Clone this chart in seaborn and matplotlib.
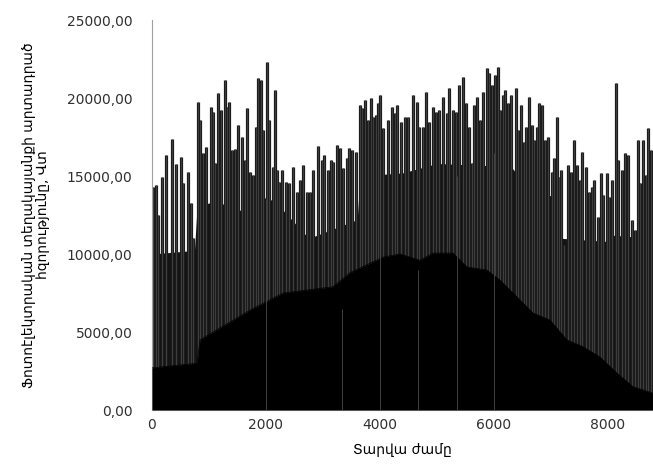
import matplotlib
matplotlib.use("Agg")
import matplotlib.pyplot as plt
import seaborn as sns
import pandas as pd
from matplotlib.ticker import FuncFormatter, FixedLocator

# ---- data (hour of year, value) ----
peak_hours = [10, 70, 110, 170, 246, 345, 421, 509, 550, 626, 679, 725, 801, 842, 900, 947,
              1029, 1076, 1111, 1164, 1205, 1280, 1321, 1356, 1397, 1456, 1514, 1573, 1631,
              1672, 1719, 1778, 1824, 1865, 1912, 1953, 2012, 2052, 2117, 2157, 2187, 2228,
              2275, 2345, 2403, 2479, 2538, 2596, 2654, 2713, 2771, 2830, 2918, 2976, 3023,
              3081, 3140, 3181, 3239, 3298, 3356, 3415, 3455, 3514, 3572, 3648, 3689, 3736,
              3783, 3836, 3882, 3923, 3970, 4005, 4058, 4134, 4204, 4262, 4303, 4362, 4438,
              4496, 4584, 4643, 4689, 4748, 4806, 4864, 4923, 4981, 5040, 5110, 5169, 5215,
              5285, 5332, 5391, 5449, 5508, 5566, 5607, 5648, 5707, 5753, 5800, 5870, 5917,
              5958, 6016, 6063, 6104, 6151, 6192, 6239, 6297, 6385, 6426, 6472, 6525, 6560,
              6613, 6660, 6706, 6748, 6788, 6846, 6893, 6951, 7011, 7057, 7098, 7139, 7174,
              7226, 7291, 7349, 7396, 7449, 7507, 7548, 7607, 7665, 7712, 7758, 7817, 7875,
              7916, 7975, 8016, 8074, 8133, 8179, 8238, 8296, 8355, 8414, 8472, 8519, 8560,
              8618, 8660, 8706, 8753]
peak_values = [14310, 14400, 12500, 14960, 16350, 17400, 15800, 16240, 14530, 15280, 13260,
               11020, 19760, 18590, 16470, 16880, 19440, 19120, 15830, 20300, 19230, 21150,
               19440, 19760, 16670, 16740, 18270, 17520, 16030, 19340, 15280, 15070, 18160,
               21260, 21150, 17950, 22330, 18590, 15600, 20510, 15380, 14630, 15380, 14630,
               14530, 15600, 13990, 14740, 15700, 13990, 13990, 15380, 16920, 16030, 16350,
               15380, 16030, 15920, 16990, 16770, 15490, 16130, 16770, 16670, 16560, 19550,
               19340, 19870, 18590, 19980, 18800, 18910, 19660, 20190, 18060, 18590, 19440,
               19020, 19550, 18480, 18800, 18800, 20190, 19760, 18160, 18160, 20400, 18480,
               19440, 19120, 19230, 20080, 19020, 20620, 19230, 19120, 20830, 21370, 19660,
               18160, 15810, 19550, 20080, 18590, 20400, 21900, 21580, 20830, 21470, 22010,
               19230, 20190, 20510, 19660, 20190, 20620, 17950, 19550, 17200, 18160, 20080,
               18270, 17310, 18160, 19660, 19550, 17310, 17520, 15280, 16130, 18800, 14960,
               15380, 10580, 15700, 15280, 17310, 15700, 14740, 16560, 15600, 13990, 14310,
               14740, 12390, 15170, 13780, 15170, 13670, 14740, 20940, 16030, 15380, 16450,
               16350, 12180, 11540, 17310, 14530, 17310, 15070, 18060, 16670]

# level below which the spikes merge into a dense dark band
mid_hours = [0, 650, 725, 790, 1100, 1700, 1800, 2150, 2750, 3600, 3650, 4400, 5000,
             6300, 6600, 7100, 7200, 8000, 8100, 8780]
mid_values = [10000, 10200, 9000, 13000, 13400, 12600, 13800, 13400, 11000, 12200, 15000,
              15200, 15800, 15600, 14200, 13600, 11000, 10800, 11200, 11000]

# solid night-time base
base_hours = [0, 790, 842, 1719, 2298, 3175, 3473, 4052, 4350, 4700, 4929, 5280, 5525,
              5876, 6104, 6402, 6683, 6981, 7279, 7560, 7858, 8156, 8437, 8780]
base_values = [2700, 3000, 4500, 6400, 7500, 7900, 8800, 9800, 10000, 9600, 10060, 10060,
               9170, 8970, 8330, 7250, 6220, 5770, 4490, 4060, 3400, 2370, 1500, 1090]

# single low hours that show as light lines through the black band
dip_hours = [2000, 3330, 4000, 4666, 5350, 6000]
dip_tops = [13500, 6500, 16000, 9000, 15000, 16500]

y_ticks = [0, 5000, 10000, 15000, 20000, 25000]
x_ticks = [0, 2000, 4000, 6000, 8000]

sns.set_theme(style="white")
plt.rcParams["font.family"] = ["DejaVu Sans"]

fig = plt.figure(figsize=(6.53, 4.73), dpi=100)
ax = fig.add_axes([152 / 653, 63 / 473, 1 - 152 / 653, 390 / 473])

mid_df = pd.DataFrame({"h": mid_hours, "v": mid_values})
base_df = pd.DataFrame({"h": base_hours, "v": base_values})

ax.fill_between(mid_df["h"], 0, mid_df["v"], color="#141414", lw=0, zorder=1)
ax.vlines(peak_hours, 0, peak_values, color="#1c1c1c", lw=2.3, zorder=2)
ax.vlines(peak_hours, 0, peak_values, color="#404040", lw=0.7, zorder=2.5)
ax.fill_between(base_df["h"], 0, base_df["v"], color="black", lw=0, zorder=3)
sns.lineplot(data=base_df, x="h", y="v", ax=ax, color="black", lw=0.5, zorder=3)
ax.vlines(dip_hours, 0, dip_tops, color="#4a4a4a", lw=0.6, zorder=4)

ax.set_xlim(0, 8790)
ax.set_ylim(0, 25000)
ax.yaxis.set_major_locator(FixedLocator(y_ticks))
ax.xaxis.set_major_locator(FixedLocator(x_ticks))
ax.yaxis.set_major_formatter(FuncFormatter(lambda v, p: f"{v:.2f}".replace(".", ",")))
ax.xaxis.set_major_formatter(FuncFormatter(lambda v, p: f"{int(v)}"))
ax.tick_params(axis="both", length=0, labelsize=10, colors="#303030", pad=6)
ax.tick_params(axis="y", pad=14)

for s in ["top", "right"]:
    ax.spines[s].set_visible(False)
ax.spines["left"].set_color("#a0a0a0")
ax.spines["bottom"].set_color("#b0b0b0")
ax.spines["left"].set_linewidth(0.8)
ax.spines["bottom"].set_linewidth(0.8)

ax.set_xlabel("Տարվա ժամը", fontsize=10, color="black", labelpad=8)
ax.set_ylabel("Ֆոտոէլեկտրական տեղակայանքի արտադրած\nհզորությունը, Վտ",
              fontsize=10, color="black", labelpad=12, linespacing=1.0)
ax.grid(False)

fig.savefig("out.png", dpi=100)
